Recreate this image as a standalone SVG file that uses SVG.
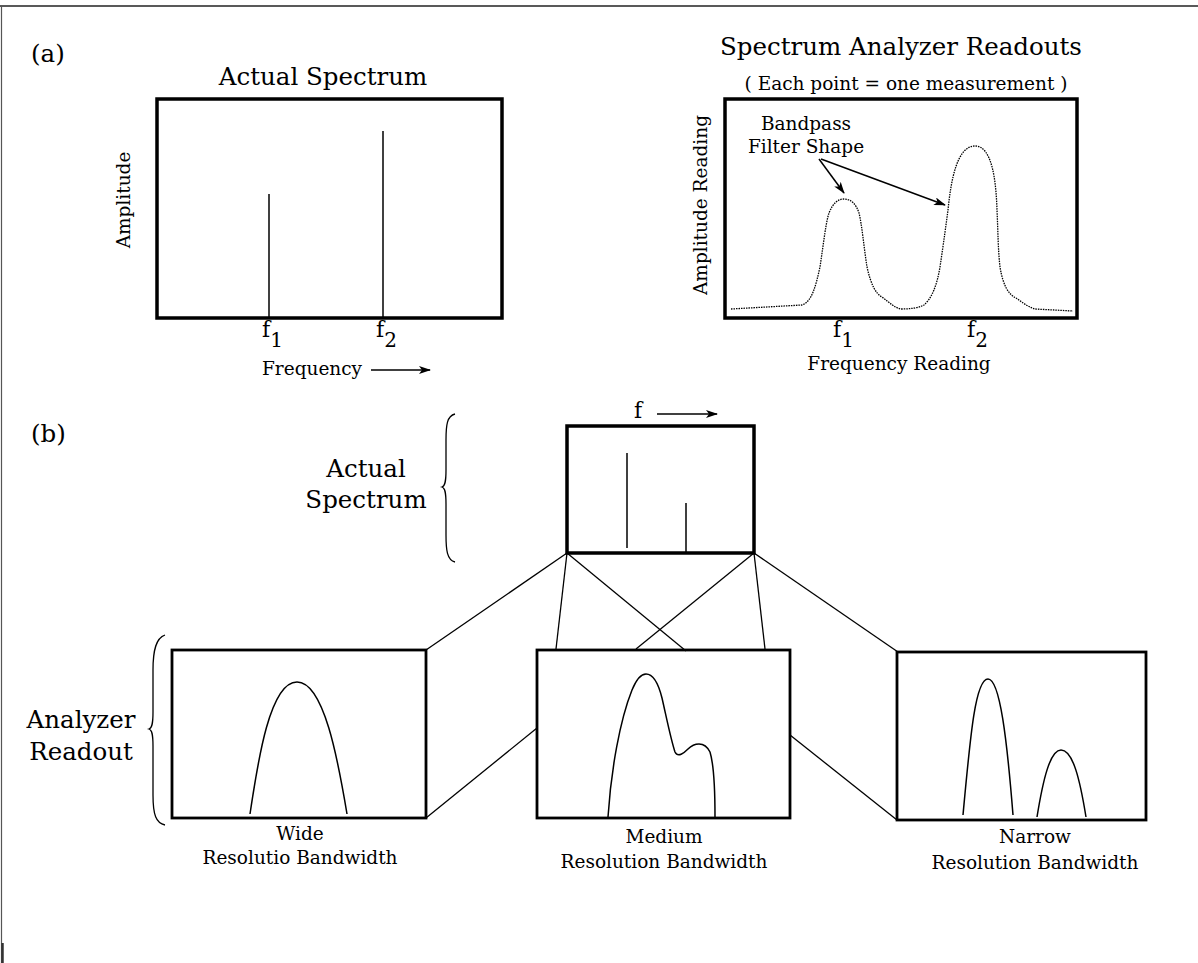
<svg xmlns="http://www.w3.org/2000/svg" width="1198" height="963" viewBox="0 0 1198 963">
<defs>
<style>
text{font-family:"DejaVu Serif","Liberation Serif",serif;fill:#000}
.big{font-size:24.5px}
.sm{font-size:18.5px}
.fl{font-size:22px}
.box{fill:none;stroke:#000;stroke-width:3.5}
.box2{fill:none;stroke:#000;stroke-width:2.8}
.ln{stroke:#000;stroke-width:1.5;fill:none}
.cn{stroke:#000;stroke-width:1.3;fill:none}
.crv{stroke:#000;stroke-width:1.5;fill:none}
.dot{stroke:#000;stroke-width:1.3;fill:none;stroke-dasharray:1.5 1}
.c{text-anchor:middle}
</style>
<marker id="ah" viewBox="0 0 12 8" refX="11" refY="4" markerWidth="12" markerHeight="8" markerUnits="userSpaceOnUse" orient="auto">
<path d="M0,0 L12,4 L0,8 L3,4 Z" fill="#000"/>
</marker>
</defs>
<rect width="1198" height="963" fill="#fff"/>
<g id="frame">
<line x1="0" y1="6" x2="1198" y2="6" stroke="#222" stroke-width="1.5"/>
<line x1="1.5" y1="6" x2="1.5" y2="963" stroke="#555" stroke-width="1.2"/>
<line x1="2.5" y1="943" x2="2.5" y2="963" stroke="#333" stroke-width="2.5"/>
</g>
<text class="big" x="31" y="62">(a)</text>
<g id="actual-spectrum-a">
<text class="big c" x="323" y="85">Actual Spectrum</text>
<rect class="box" x="157" y="99" width="345" height="219"/>
<line class="ln" x1="269" y1="194" x2="269" y2="318"/>
<line class="ln" x1="383" y1="131" x2="383" y2="318"/>
<text class="fl" x="262" y="337">f<tspan dy="10" font-size="20">1</tspan></text>
<text class="fl" x="376" y="337">f<tspan dy="10" font-size="20">2</tspan></text>
<text class="sm" x="262" y="375">Frequency</text>
<line class="ln" x1="371" y1="370" x2="430" y2="370" marker-end="url(#ah)"/>
<text class="sm c" transform="translate(130,200) rotate(-90)">Amplitude</text>
</g>
<g id="readouts-a">
<text class="big c" x="901" y="55">Spectrum Analyzer Readouts</text>
<text class="sm c" x="906" y="90">( Each point = one measurement )</text>
<rect class="box" x="725" y="99" width="352" height="219"/>
<text class="sm c" transform="translate(707,205) rotate(-90)">Amplitude Reading</text>
<text class="sm c" x="806" y="130">Bandpass</text>
<text class="sm c" x="806" y="153">Filter Shape</text>
<path class="dot" d="M731,309 L802,305 C812,302 816,285 820,267 C824,240 826,222 829,213 C833,203 838,199 844,199 C851,199 856,204 859,213 C862,225 864,248 867,267 C871,285 876,294 882,297 C890,303 895,308 901,309 C910,309 918,308 924,305 C932,298 937,285 940,267 C944,240 946,225 948,210 C951,180 957,146 975,146 C992,146 996,180 997,210 C998,230 998,250 1000,267 C1003,285 1008,294 1016,298 C1022,302 1028,307 1035,309 L1073,311"/>
<line class="ln" x1="819" y1="159" x2="844" y2="193" marker-end="url(#ah)" stroke-width="1.4"/>
<line class="ln" x1="821" y1="159" x2="945" y2="205" marker-end="url(#ah)" stroke-width="1.4"/>
<text class="fl" x="833" y="337">f<tspan dy="10" font-size="20">1</tspan></text>
<text class="fl" x="967" y="337">f<tspan dy="10" font-size="20">2</tspan></text>
<text class="sm c" x="899" y="370">Frequency Reading</text>
</g>
<text class="big" x="31" y="442">(b)</text>
<g id="actual-spectrum-b">
<text class="fl" x="634" y="418">f</text>
<line class="ln" x1="657" y1="414" x2="717" y2="414" marker-end="url(#ah)"/>
<rect class="box" x="567" y="426" width="187" height="127"/>
<line class="ln" x1="627" y1="453" x2="627" y2="548"/>
<line class="ln" x1="686" y1="503" x2="686" y2="553"/>
<path class="cn" d="M455,414 C447,416 446,425 446,440 L446,470 C446,482 445,486 442,487 C445,488 446,492 446,504 L446,535 C446,550 447,560 455,562"/>
<text class="big c" x="366" y="477">Actual</text>
<text class="big c" x="366" y="508">Spectrum</text>
</g>
<g id="analyzer-label">
<path class="cn" d="M165,635 C156,638 153,650 153,670 L153,712 C153,724 152,728 149,729 C152,730 153,734 153,746 L153,795 C153,815 156,823 165,825"/>
<text class="big c" x="81" y="728">Analyzer</text>
<text class="big c" x="81" y="760">Readout</text>
</g>
<g id="connectors">
<line class="cn" x1="567" y1="553" x2="426" y2="650"/>
<line class="cn" x1="567" y1="553" x2="556" y2="649"/>
<line class="cn" x1="567" y1="553" x2="686" y2="651"/>
<line class="cn" x1="754" y1="553" x2="636" y2="649"/>
<line class="cn" x1="754" y1="553" x2="765" y2="649"/>
<line class="cn" x1="754" y1="553" x2="898" y2="652"/>
<line class="cn" x1="426" y1="818" x2="537" y2="728"/>
<line class="cn" x1="790" y1="735" x2="897" y2="820"/>
</g>
<g id="wide">
<rect class="box2" x="172" y="650" width="254" height="168"/>
<path class="crv" d="M250,814 C258,760 270,682 297,682 C324,682 338,760 347,814"/>
<text class="sm c" x="300" y="840">Wide</text>
<text class="sm c" x="300" y="864">Resolutio Bandwidth</text>
</g>
<g id="medium">
<rect class="box2" x="537" y="650" width="253" height="168"/>
<path class="crv" d="M608,817 C611,770 620,720 632,690 C637,678 642,674 646,674 C652,674 658,682 662,698 C667,720 671,740 675,752 C678,758 684,753 688,749 C692,745 696,744 699,744 C704,744 707,746 710,752 C714,765 715,800 715,817"/>
<text class="sm c" x="664" y="843">Medium</text>
<text class="sm c" x="664" y="868">Resolution Bandwidth</text>
</g>
<g id="narrow">
<rect class="box2" x="897" y="652" width="249" height="168"/>
<path class="crv" d="M963,815 C970,740 975,679 988,679 C1000,679 1007,740 1013,815"/>
<path class="crv" d="M1037,817 C1043,780 1050,750 1061,750 C1073,750 1080,780 1086,817"/>
<text class="sm c" x="1035" y="843">Narrow</text>
<text class="sm c" x="1035" y="869">Resolution Bandwidth</text>
</g>
</svg>
